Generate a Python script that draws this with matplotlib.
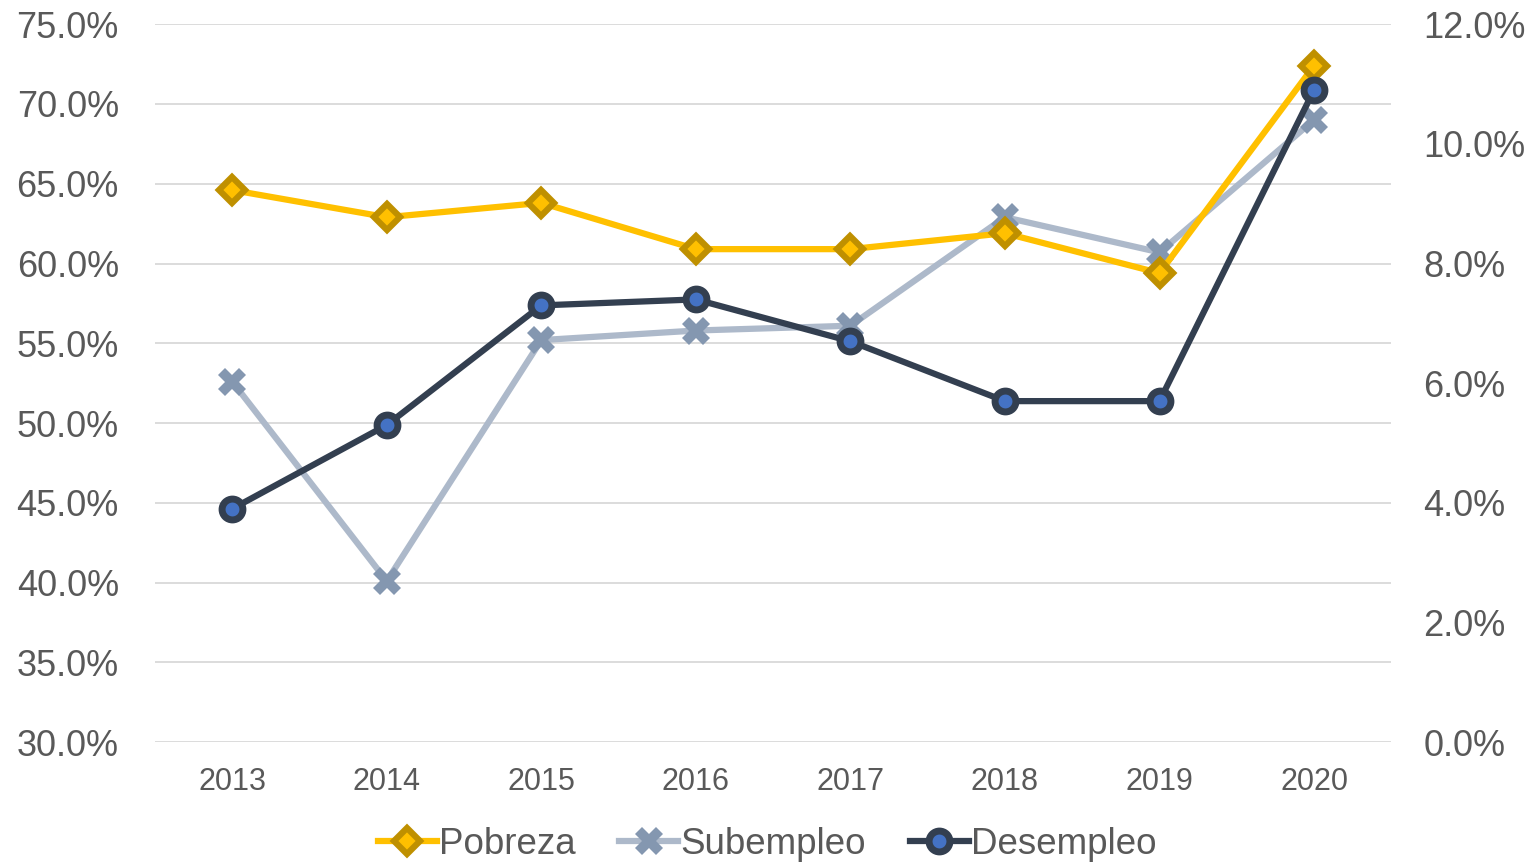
import numpy as np
import matplotlib.pyplot as plt
from matplotlib.ticker import FuncFormatter

years = ['2013', '2014', '2015', '2016', '2017', '2018', '2019', '2020']
pobreza = [64.6, 62.9, 63.8, 60.9, 60.9, 61.9, 59.4, 72.4]
subempleo = [52.6, 40.1, 55.2, 55.8, 56.1, 62.9, 60.7, 69.0]
desempleo = [3.9, 5.3, 7.3, 7.4, 6.7, 5.7, 5.7, 10.9]

plt.rcParams['font.family'] = ['Liberation Sans', 'DejaVu Sans']
txt = '#595959'

fig = plt.figure(figsize=(15.34, 8.63), dpi=100)
ax = fig.add_axes([0.101, 0.140, 0.806, 0.832])
ax2 = ax.twinx()

x = np.arange(len(years))
ax.plot(x, pobreza, color='#FFC000', lw=4.5, marker='D', ms=13,
        mfc='#FFC000', mec='#BF9000', mew=4.5, label='Pobreza', zorder=3)
ax.plot(x, subempleo, color='#ADB9CA', lw=4.5, marker='X', ms=20,
        mfc='#8497B0', mec='#8497B0', mew=0, label='Subempleo', zorder=2)
ax2.plot(x, desempleo, color='#333F50', lw=4.5, marker='o', ms=15,
         mfc='#4472C4', mec='#333F50', mew=5, label='Desempleo', zorder=4)

ax.set_xlim(-0.5, 7.5)
ax.set_ylim(30, 75)
ax.set_yticks(np.arange(30, 76, 5))
ax2.set_ylim(0, 12)
ax2.set_yticks(np.arange(0, 12.1, 2))
ax.yaxis.set_major_formatter(FuncFormatter(lambda v, p: f'{v:.1f}%'))
ax2.yaxis.set_major_formatter(FuncFormatter(lambda v, p: f'{v:.1f}%'))
ax.set_xticks(x)
ax.set_xticklabels(years)

ax.grid(axis='y', color='#D9D9D9', lw=1.3)
ax.set_axisbelow(True)
for a in (ax, ax2):
    for s in a.spines.values():
        s.set_visible(False)
ax.tick_params(axis='y', length=0, labelsize=26, labelcolor=txt, pad=26)
ax.tick_params(axis='x', length=0, labelsize=22, labelcolor=txt, pad=18)
ax2.tick_params(axis='y', length=0, labelsize=26, labelcolor=txt, pad=23)

h1, l1 = ax.get_legend_handles_labels()
h2, l2 = ax2.get_legend_handles_labels()
leg = fig.legend(h1 + h2, l1 + l2, loc='center', bbox_to_anchor=(0.5, 0.022),
                 ncol=3, frameon=False, fontsize=26.5, handlelength=1.6,
                 handletextpad=0.05, columnspacing=1.2, labelcolor=txt)

fig.savefig('out.png', dpi=100)
